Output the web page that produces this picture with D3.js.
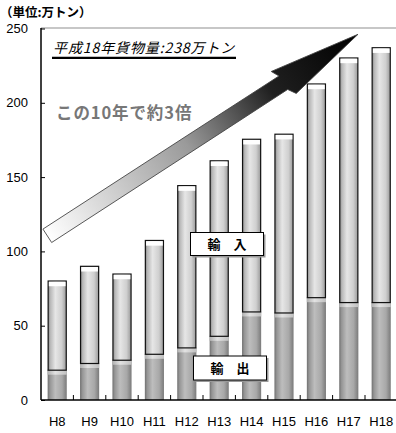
<!DOCTYPE html>
<html><head><meta charset="utf-8">
<script src="https://cdn.jsdelivr.net/npm/d3@7"></script>
<style>body{margin:0;background:#fff}svg{display:block}</style>
</head><body>
<svg id="c" width="396" height="433"></svg>
<script>
const categories = ["H8","H9","H10","H11","H12","H13","H14","H15","H16","H17","H18"];
const exportsVal = [20.4, 24.9, 27.1, 31.1, 35.4, 43.2, 59.6, 58.9, 69.2, 65.9, 65.9];
const totalVal   = [80.4, 90.3, 85.1, 107.7, 144.6, 161.3, 175.8, 179.2, 213.0, 230.5, 237.4];
const importsVal = totalVal.map((t,i)=>+(t-exportsVal[i]).toFixed(1));
const yTicks = [0,50,100,150,200,250];
const unitLabel = "（単位:万トン）";
const titleText = "平成18年貨物量:238万トン";
const noteText = "この10年で約3倍";
const legendImport = "輸\u3000入";
const legendExport = "輸\u3000出";

const svg = d3.select("#c");
const jp = "'Noto Sans CJK JP','Liberation Sans',sans-serif";
const L=41, R=397.4, T=28, B=400;
const x = d3.scaleBand().domain(categories).range([L,R]).paddingInner(0.41).paddingOuter(0.205);
const y = d3.scaleLinear().domain([0,250]).range([B,T+0.5]);

const defs = svg.append("defs");
function hgrad(id, stops){
  const g = defs.append("linearGradient").attr("id",id).attr("x1","0").attr("x2","1").attr("y1","0").attr("y2","0");
  stops.forEach(s=>g.append("stop").attr("offset",s[0]).attr("stop-color",s[1]));
}
hgrad("gImp",[[0,"#8a8a8a"],[0.12,"#b8b8b8"],[0.4,"#e6e6e6"],[0.75,"#cfcfcf"],[1,"#9a9a9a"]]);
hgrad("gExp",[[0,"#707070"],[0.12,"#959595"],[0.4,"#bdbdbd"],[0.75,"#a8a8a8"],[1,"#7a7a7a"]]);
hgrad("gBand",[[0,"#b0b0b0"],[0.4,"#e2e2e2"],[1,"#c0c0c0"]]);
const ag = defs.append("linearGradient").attr("id","gArrow").attr("x1","0").attr("x2","1").attr("y1","0").attr("y2","0");
[[0,"#ffffff"],[0.45,"#9a9a9a"],[0.72,"#202020"],[1,"#000000"]].forEach(s=>ag.append("stop").attr("offset",s[0]).attr("stop-color",s[1]));

// top border
svg.append("line").attr("x1",L).attr("x2",396).attr("y1",T).attr("y2",T).attr("stroke","#b4b4b4").attr("stroke-width",1.5);

// bars
const bw = x.bandwidth();
const g = svg.append("g");
categories.forEach((c,i)=>{
  const x0 = x(c);
  const e = exportsVal[i], t = totalVal[i];
  g.append("rect").attr("x",x0).attr("width",bw).attr("y",y(e)).attr("height",B-y(e)).attr("fill","url(#gExp)");
  g.append("rect").attr("x",x0).attr("width",bw).attr("y",y(e)).attr("height",5).attr("fill","url(#gBand)");
  g.append("rect").attr("x",x0+0.5).attr("width",bw-1).attr("y",y(t)+0.5).attr("height",y(e)-y(t)).attr("fill","url(#gImp)")
    .attr("stroke","#111").attr("stroke-width",1.2);
  g.append("rect").attr("x",x0+1.2).attr("width",bw-2.4).attr("y",y(t)+1.2).attr("height",4.5).attr("fill","#fff");
});

// axes
svg.append("line").attr("x1",L).attr("x2",L).attr("y1",T).attr("y2",B).attr("stroke","#000").attr("stroke-width",1.5);
svg.append("line").attr("x1",L).attr("x2",396).attr("y1",B).attr("y2",B).attr("stroke","#000").attr("stroke-width",1.5);
const yAxis = d3.axisLeft(y).tickValues(yTicks).tickSize(-4).tickPadding(13);
const ya = svg.append("g").attr("transform",`translate(${L},0)`).call(yAxis);
ya.select(".domain").remove();
ya.selectAll("line").attr("stroke","#000");
ya.selectAll("text").attr("font-family","'Liberation Sans',Arial,sans-serif").attr("font-size",13).attr("fill","#000");

const xb = d3.scaleLinear().domain([0,categories.length]).range([L,R]);
svg.append("g").selectAll("line").data(d3.range(1,categories.length)).join("line")
  .attr("x1",d=>xb(d)).attr("x2",d=>xb(d)).attr("y1",B).attr("y2",B-5).attr("stroke","#000");
svg.append("g").selectAll("text").data(categories).join("text")
  .attr("x",d=>x(d)+bw/2).attr("y",426).attr("text-anchor","middle")
  .attr("font-family","'Liberation Sans',Arial,sans-serif").attr("font-size",13).text(d=>d);

// unit label
svg.append("text").attr("x",0).attr("y",17).attr("font-family",jp).attr("font-size",12.5).attr("font-weight","bold").text(unitLabel);

// title
svg.append("text").attr("x",53).attr("y",53).attr("font-family",jp).attr("font-size",14).attr("letter-spacing",0.9)
  .attr("font-style","italic").text(titleText);
svg.append("line").attr("x1",52).attr("x2",236).attr("y1",57.8).attr("y2",57.8).attr("stroke","#000").attr("stroke-width",2.2);

// note
svg.append("text").attr("x",56).attr("y",119).attr("font-family",jp).attr("font-size",16.5).attr("letter-spacing",0.9)
  .attr("font-weight","bold").attr("fill","#777").text(noteText);

// arrow
const sx=47.3, sy=235.8, ex=358, ey=34.3;
const len = Math.hypot(ex-sx, ey-sy), ang = Math.atan2(ey-sy, ex-sx)*180/Math.PI;
const hw=8, hh=16, hl=93;
const pts = [[0,-hw],[len-hl+4,-hw],[len-hl,-hh],[len,0],[len-hl+9,hh],[len-hl+4,hw],[0,hw]];
svg.append("g").attr("transform",`translate(${sx},${sy}) rotate(${ang})`)
  .append("path").attr("d","M"+pts.map(p=>p.join(",")).join("L")+"Z")
  .attr("fill","url(#gArrow)").attr("stroke","#444").attr("stroke-width",0.8);

// legend boxes
function box(x0,y0,w,h,label){
  svg.append("rect").attr("x",x0+2).attr("y",y0+2).attr("width",w).attr("height",h).attr("fill","#999");
  svg.append("rect").attr("x",x0).attr("y",y0).attr("width",w).attr("height",h).attr("fill","#fff").attr("stroke","#000").attr("stroke-width",1);
  svg.append("text").attr("x",x0+w/2).attr("y",y0+h/2+5).attr("text-anchor","middle").attr("font-family",jp)
    .attr("font-size",13).attr("font-weight","bold").text(label);
}
box(190.5,232.5,73,23,legendImport);
box(193.5,356,73,24,legendExport);
</script>
</body></html>
